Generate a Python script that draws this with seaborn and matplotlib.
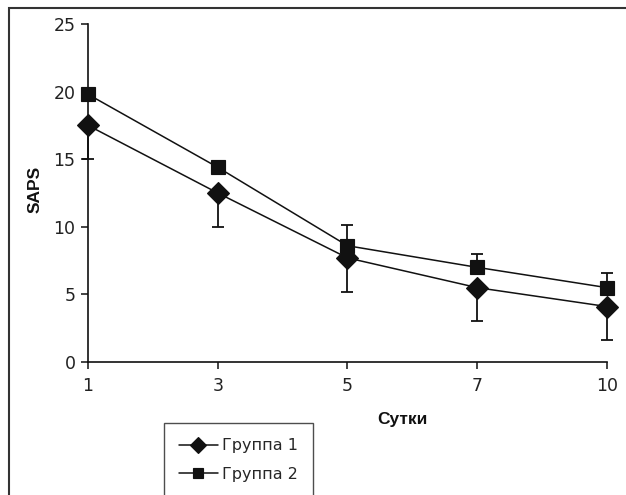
import pandas as pd
import seaborn as sns
import matplotlib.pyplot as plt
from matplotlib.patches import Rectangle

# Data
days = ['1', '3', '5', '7', '10']
group1 = [17.5, 12.5, 7.7, 5.5, 4.1]
group2 = [19.8, 14.4, 8.6, 7.0, 5.5]
group1_err_low = [2.5, 2.5, 2.5, 2.5, 2.5]
group2_err_high = [0.2, 0.5, 1.5, 1.0, 1.05]
group_names = ['Группа 1', 'Группа 2']

df = pd.DataFrame({
    'day': days * 2,
    'saps': group1 + group2,
    'group': [group_names[0]] * len(days) + [group_names[1]] * len(days),
})

sns.set_theme(style='white')
plt.rcParams['font.family'] = ['DejaVu Sans']

fig = plt.figure(figsize=(6.26, 4.95), dpi=100)
ax = fig.add_axes([0.1406, 0.2687, 0.829, 0.6828])

sns.pointplot(data=df, x='day', y='saps', hue='group', order=days,
              hue_order=group_names, markers=['D', 's'], linestyles=['-', '-'],
              palette=['#111111', '#111111'], errorbar=None, ax=ax,
              markersize=10, linewidth=1.1)

# bigger diamond, slightly smaller square, as in the original
for ln in ax.lines:
    if ln.get_marker() == 'D':
        ln.set_markersize(11.5)
    elif ln.get_marker() == 's':
        ln.set_markersize(9.5)

# one-sided error bars: lower for group 1, upper for group 2
xs = list(range(len(days)))
zeros = [0] * len(days)
ax.errorbar(xs, group1, yerr=[group1_err_low, zeros], fmt='none',
            ecolor='#111111', elinewidth=1.3, capsize=4, capthick=1.3)
ax.errorbar(xs, group2, yerr=[zeros, group2_err_high], fmt='none',
            ecolor='#111111', elinewidth=1.3, capsize=4, capthick=1.3)

for ln in ax.lines:
    ln.set_clip_on(False)
for c in ax.collections:
    c.set_clip_on(False)

ax.set_xlim(0, len(days) - 1)
ax.set_ylim(0, 25)
ax.set_yticks([0, 5, 10, 15, 20, 25])

for side in ['top', 'right']:
    ax.spines[side].set_visible(False)
for side in ['left', 'bottom']:
    ax.spines[side].set_color('#111111')
    ax.spines[side].set_linewidth(1.2)

ax.tick_params(axis='both', direction='out', length=5, width=1.1,
               color='#111111', labelsize=12.5, labelcolor='#222222', pad=4)
ax.tick_params(axis='x', pad=6)
ax.tick_params(left=True, bottom=True)

ax.set_xlabel('Сутки', fontsize=12.5, fontweight='bold', color='#111111',
              family='Liberation Sans')
ax.set_ylabel('SAPS', fontsize=12.5, fontweight='bold', color='#111111',
              family='Liberation Sans')
ax.xaxis.set_label_coords(0.605, -0.148)
ax.yaxis.set_label_coords(-0.088, 0.51)

handles, labels = ax.get_legend_handles_labels()
ax.get_legend().remove()
leg = fig.legend(handles, labels, loc='upper left',
                 bbox_to_anchor=(164 / 626, 1 - 423 / 495),
                 frameon=True, fancybox=False, fontsize=11.5,
                 handlelength=2.4, handletextpad=0.25, labelspacing=0.85,
                 borderpad=0.95, borderaxespad=0, markerscale=0.72)
leg.get_frame().set_edgecolor('#222222')
leg.get_frame().set_linewidth(1.0)

# outer chart-area frame
fig.patches.append(Rectangle((9 / 626, -0.05), 1.0, 1 - 8 / 495 + 0.05,
                             transform=fig.transFigure, fill=False,
                             edgecolor='#333333', linewidth=1.5))

plt.savefig('out.png', dpi=100)
plt.close()
